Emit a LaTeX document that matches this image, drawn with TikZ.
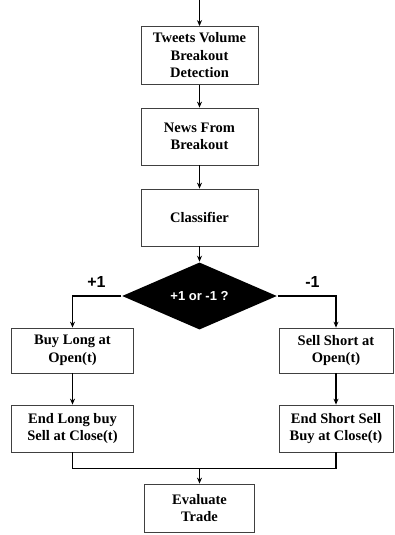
\documentclass[tikz,border=0pt]{standalone}
\usepackage{fontspec}
\setmainfont{Liberation Serif}
\newfontfamily\signfont{Liberation Sans}
\usetikzlibrary{positioning,arrows.meta,shapes.geometric}
\tikzset{
  flow/.style={->,>={Stealth[length=6pt,width=5pt]},line width=1.2pt,on grid},
  stepbox/.style={draw=black!75,line width=0.8pt,inner sep=2pt,align=center,
    font=\bfseries\fontsize{14.5}{17.5}\selectfont},
  decide/.style={diamond,fill=black,text=white,inner sep=0pt,
    minimum width=155pt,minimum height=42pt,font=\signfont\bfseries\fontsize{13}{15}\selectfont},
  tag/.style={font=\signfont\bfseries\fontsize{16}{18}\selectfont},
}

\begin{document}
\begin{tikzpicture}[flow]
  \useasboundingbox (0,0) rectangle (394pt,-535pt);
  \node[stepbox,minimum width=117pt,minimum height=58pt] (tweets) at (199.5pt,-55.5pt)
    {Tweets Volume\\Breakout\\Detection};
  \node[stepbox,minimum width=117pt,minimum height=57pt] (news) [below=81pt of tweets]
    {News From\\Breakout};
  \node[stepbox,minimum width=117pt,minimum height=57pt] (classifier) [below=81pt of news]
    {Classifier};
  \node[decide] (sign) [below=78.5pt of classifier] {+1 or -1 ?};
  \node[stepbox,minimum width=122pt,minimum height=45pt] (buy)
    [below left=54.5pt and 127pt of sign] {Buy Long at\\Open(t)};
  \node[stepbox,minimum width=114pt,minimum height=45pt] (sell)
    [below right=54.5pt and 136.5pt of sign] {Sell Short at\\Open(t)};
  \node[stepbox,minimum width=122pt,minimum height=47pt] (endlong) [below=78pt of buy]
    {End Long buy\\Sell at Close(t)};
  \node[stepbox,minimum width=114pt,minimum height=47pt] (endshort) [below=78pt of sell]
    {End Short Sell\\Buy at Close(t)};
  \node[stepbox,minimum width=110pt,minimum height=48pt] (evaluate) [below=212pt of sign]
    {Evaluate\\Trade};
  \node[tag] (plus) [above left=14pt and 103pt of sign] {+1};
  \node[tag] (minus) [above right=14pt and 113pt of sign] {-1};
  \coordinate[above=55.5pt of tweets] (start);
  \coordinate[below=172.5pt of sign] (join);

  \draw (start) -- (tweets);
  \draw (tweets) -- (news);
  \draw (news) -- (classifier);
  \draw (classifier) -- (sign);
  \draw (sign.west) -| (buy.north);
  \draw (sign.east) -| (sell.north);
  \draw (buy) -- (endlong);
  \draw (sell) -- (endshort);
  \draw[-] (endlong.south) |- (join) -| (endshort.south);
  \draw (join) -- (evaluate);
\end{tikzpicture}
\end{document}
